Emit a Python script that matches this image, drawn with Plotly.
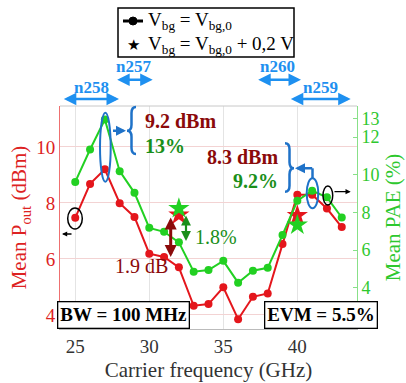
import plotly.graph_objects as go

# ---- data ----
freq = [25, 26, 27, 28, 29, 30, 31, 32, 33, 34, 35, 36, 37, 38, 39, 40, 41, 42, 43]
pout = [7.47, 8.68, 9.20, 7.99, 7.50, 6.19, 6.07, 5.70, 4.33, 4.39, 4.99, 3.85, 4.65, 4.77, 6.53, 8.29, 8.29, 7.80, 7.14]
pae = [9.62, 11.34, 12.93, 10.19, 9.04, 7.18, 6.97, 6.41, 4.85, 4.94, 5.43, 4.27, 4.90, 5.06, 6.80, 8.62, 9.15, 8.80, 7.73]
star_freq = [32, 40]
star_pout = [7.57, 7.55]
star_pae = [8.21, 7.33]
x_ticks = [25, 30, 35, 40]
y1_ticks = [4, 6, 8, 10]
y2_ticks = [4, 6, 8, 10, 12, 13]
legend_labels = ["V<sub>bg</sub> = V<sub>bg,0</sub>", "V<sub>bg</sub> = V<sub>bg,0</sub> + 0,2 V"]

W, H = 406, 383
L, R, T, B = 60, 49, 106, 54
PW, PH = W - L - R, H - T - B
FONT = "Liberation Serif, DejaVu Serif, serif"

RED = "#e4161c"
GREEN = "#22d022"
DRED = "#8b0a0a"
DGREEN = "#1a8f1a"
NBLUE = "#1e90f0"
EBLUE = "#1f72c8"


def P(X, Y):
    return (X - L) / PW, (T + PH - Y) / PH


fig = go.Figure()
fig.add_trace(go.Scatter(x=freq, y=pout, mode="lines+markers", line=dict(color=RED, width=2),
                         marker=dict(size=8, color=RED), showlegend=False, yaxis="y"))
fig.add_trace(go.Scatter(x=freq, y=pae, mode="lines+markers", line=dict(color=GREEN, width=2),
                         marker=dict(size=8, color=GREEN), showlegend=False, yaxis="y2"))
fig.add_trace(go.Scatter(x=star_freq, y=star_pout, mode="markers",
                         marker=dict(symbol="star", size=16, color=RED), showlegend=False, yaxis="y"))
fig.add_trace(go.Scatter(x=star_freq, y=star_pae, mode="markers",
                         marker=dict(symbol="star", size=16, color=GREEN), showlegend=False, yaxis="y2"))

shapes = []
annos = []


def text(X, Y, s, color, size, bold=False, xanchor="center"):
    px, py = P(X, Y)
    annos.append(dict(x=px, y=py, xref="paper", yref="paper", text=("<b>%s</b>" % s) if bold else s,
                      showarrow=False, xanchor=xanchor, yanchor="middle",
                      font=dict(family=FONT, size=size, color=color)))


def arrow(X0, Y0, X1, Y1, color, width, both=False, head=2, size=1.0):
    px, py = P(X1, Y1)
    annos.append(dict(x=px, y=py, xref="paper", yref="paper", text="", showarrow=True,
                      ax=X0 - X1, ay=Y0 - Y1, axref="pixel", ayref="pixel",
                      arrowhead=head, arrowsize=size, arrowwidth=width, arrowcolor=color,
                      startarrowhead=head, startarrowsize=size,
                      arrowside="end+start" if both else "end"))


def rect(X0, Y0, X1, Y1, typ="rect", color="black", width=1.5, fill=None):
    a, b = P(X0, Y1)
    c, d = P(X1, Y0)
    shapes.append(dict(type=typ, xref="paper", yref="paper", x0=a, y0=b, x1=c, y1=d,
                       line=dict(color=color, width=width), fillcolor=fill))


def line(X0, Y0, X1, Y1, color, width):
    a, b = P(X0, Y0)
    c, d = P(X1, Y1)
    shapes.append(dict(type="line", xref="paper", yref="paper", x0=a, y0=b, x1=c, y1=d,
                       line=dict(color=color, width=width)))


def brace(xs, top, bot, mid, w, color, r=6):
    pts = [("M", xs + w, top), ("Q", xs, top, xs, top + r), ("L", xs, mid - r),
           ("Q", xs, mid, xs - w, mid), ("Q", xs, mid, xs, mid + r), ("L", xs, bot - r),
           ("Q", xs, bot, xs + w, bot)]
    s = ""
    for p in pts:
        cmd = p[0]
        coords = p[1:]
        conv = []
        for i in range(0, len(coords), 2):
            a, b = P(coords[i], coords[i + 1])
            conv.append("%.5f,%.5f" % (a, b))
        s += cmd + " " + " ".join(conv) + " "
    shapes.append(dict(type="path", xref="paper", yref="paper", path=s.strip(),
                       line=dict(color=color, width=2.5)))


# top border
line(L, T, W - R, T, "#c8c8c8", 1)

# legend (drawn by hand)
rect(118, 8, 294, 57, color="black", width=1.5, fill="white")
line(123, 21, 143, 21, "black", 3)
rect(129, 17, 137, 25, typ="circle", color="black", width=1, fill="black")
text(133, 45, "★", "black", 15)
text(146, 21, legend_labels[0], "black", 19, xanchor="left")
text(146, 45, legend_labels[1], "black", 19, xanchor="left")

# band labels and arrows
text(91.7, 87, "n258", NBLUE, 17, bold=True)
arrow(62.3, 99, 119, 99, NBLUE, 2.5, both=True)
text(133.3, 67, "n257", NBLUE, 17, bold=True)
arrow(115.7, 79.7, 152.7, 79.7, NBLUE, 2.5, both=True)
text(277.3, 67, "n260", NBLUE, 17, bold=True)
arrow(256.7, 79.7, 301, 79.7, NBLUE, 2.5, both=True)
text(320, 87, "n259", NBLUE, 17, bold=True)
arrow(289.3, 99, 350.7, 99, NBLUE, 2.5, both=True)

# peak annotation at 27 GHz
rect(100, 112.7, 110.7, 181.7, typ="circle", color=EBLUE, width=2)
arrow(111.5, 130.7, 126, 130.7, EBLUE, 2.5, head=2, size=0.8)
brace(131.5, 107, 154, 130.7, 4.5, EBLUE)
text(143, 121, "9.2 dBm", DRED, 20, bold=True, xanchor="left")
text(143, 146, "13%", DGREEN, 20, bold=True, xanchor="left")

# peak annotation at 41 GHz
rect(306.7, 178.3, 318.3, 208.3, typ="circle", color=EBLUE, width=2)
line(312.5, 178.3, 312.5, 168.3, EBLUE, 2.5)
arrow(313.7, 168.3, 295, 168.3, EBLUE, 2.5, head=2, size=0.8)
brace(289.5, 143.3, 191.7, 168.3, -4.5, EBLUE)
text(280, 157, "8.3 dBm", DRED, 20, bold=True, xanchor="right")
text(280, 181, "9.2%", DGREEN, 20, bold=True, xanchor="right")

# axis pointers
rect(67.7, 208, 82.3, 229, typ="circle", color="black", width=1.5)
arrow(73, 234, 62, 234, "black", 1.3, head=2, size=0.8)
rect(323, 186, 332.7, 205, typ="circle", color="black", width=1.5)
arrow(333, 191.7, 350.7, 191.7, "black", 1.3, head=2, size=0.8)

# delta arrows at 32 GHz
arrow(170.7, 216, 170.7, 257, DRED, 3, both=True, head=2, size=0.8)
arrow(186, 214, 186, 241, DGREEN, 2.2, both=True, head=2, size=0.9)
text(193, 237, "1.8%", DGREEN, 20, xanchor="left")
text(141, 266, "1.9 dB", DRED, 20)

# boxes
bx, by = P(123.5, 314.5)
annos.append(dict(x=bx, y=by, xref="paper", yref="paper", text="<b>BW = 100 MHz</b>", showarrow=False,
                  xanchor="center", yanchor="middle",
                  font=dict(family=FONT, size=19, color="black"), bgcolor="white",
                  bordercolor="black", borderwidth=1.3, borderpad=2))
ex, ey = P(320.5, 315)
annos.append(dict(x=ex, y=ey, xref="paper", yref="paper", text="<b>EVM = 5.5%</b>", showarrow=False,
                  xanchor="center", yanchor="middle",
                  font=dict(family=FONT, size=19, color="black"), bgcolor="white",
                  bordercolor="black", borderwidth=1.3, borderpad=2))

fig.update_layout(
    width=W, height=H, margin=dict(l=L, r=R, t=T, b=B, autoexpand=False),
    paper_bgcolor="white", plot_bgcolor="white",
    font=dict(family=FONT, size=18, color="#333"),
    showlegend=False,
    xaxis=dict(range=[23.97, 44.03], tickvals=x_ticks, showgrid=True, gridcolor="#e4e4e4",
               zeroline=False, showline=True, linecolor="#bbbbbb", ticks="",
               tickfont=dict(family=FONT, size=19, color="#333"),
               title=dict(text="Carrier frequency (GHz)", standoff=6,
                          font=dict(family=FONT, size=21, color="#333"))),
    yaxis=dict(range=[3.5, 11.46], tickvals=y1_ticks, showgrid=True, gridcolor="#f3d3d3",
               zeroline=False, showline=True, linecolor="#ee7070", ticks="",
               tickfont=dict(family=FONT, size=19, color="#dd2222"),
               title=dict(text="Mean P<sub>out</sub> (dBm)", standoff=3,
                          font=dict(family=FONT, size=21, color="#dd2222"))),
    yaxis2=dict(range=[1.81, 13.65], tickvals=y2_ticks, overlaying="y", side="right",
                showgrid=False, zeroline=False, showline=True, linecolor="#88e088",
                ticks="inside", ticklen=4, tickcolor="#88e088",
                tickfont=dict(family=FONT, size=18, color="#2ec82e"),
                title=dict(text="Mean PAE (%)", standoff=6,
                           font=dict(family=FONT, size=21, color="#2ec82e"))),
    shapes=shapes, annotations=annos,
)

fig.write_html("out.html", config={"displayModeBar": False},
               post_script="document.body.style.margin='0px';")
